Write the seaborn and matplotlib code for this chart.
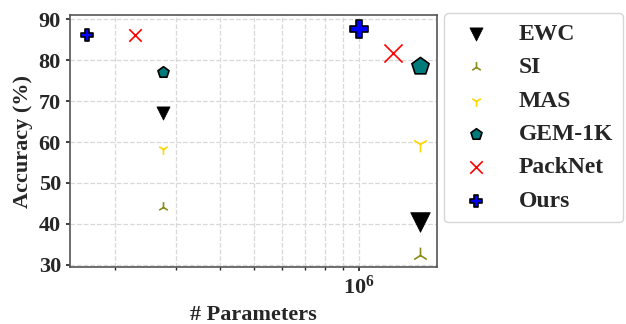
import matplotlib
matplotlib.use("Agg")
import matplotlib.pyplot as plt
import seaborn as sns
import pandas as pd
import numpy as np

methods = ["EWC", "SI", "MAS", "GEM-1K", "PackNet", "Ours"]
params_small = [2.75e5, 2.75e5, 2.75e5, 2.75e5, 2.29e5, 1.67e5]
params_big = [1.49e6, 1.49e6, 1.49e6, 1.49e6, 1.25e6, 1.0e6]
acc_small = [67.1, 44.1, 58.2, 77.1, 86.0, 86.0]
acc_big = [40.6, 32.4, 59.5, 78.5, 81.8, 87.7]

markers = {"EWC": "v", "SI": "2", "MAS": "1", "GEM-1K": "p", "PackNet": "x", "Ours": "P"}
colors = {"EWC": "black", "SI": "#8b8b1a", "MAS": "#ffd700", "GEM-1K": "#007b7b",
          "PackNet": "red", "Ours": "blue"}
sizes_small = {"EWC": 90, "SI": 60, "MAS": 60, "GEM-1K": 70, "PackNet": 80, "Ours": 70}
sizes_big = {"EWC": 200, "SI": 130, "MAS": 130, "GEM-1K": 170, "PackNet": 170, "Ours": 170}

sns.set_theme(style="white")
plt.rcParams["font.family"] = ["Liberation Serif", "DejaVu Serif"]
plt.rcParams["font.weight"] = "bold"
plt.rcParams["mathtext.fontset"] = "stix"
plt.rcParams["mathtext.default"] = "bf"

fig = plt.figure(figsize=(6.26, 3.24), dpi=100)
ax = fig.add_axes([70 / 626, 1 - 267 / 324, 367 / 626, 252 / 324])

for i, m in enumerate(methods):
    df = pd.DataFrame({"p": [params_small[i], params_big[i]],
                       "a": [acc_small[i], acc_big[i]],
                       "s": [sizes_small[m], sizes_big[m]]})
    if m in ("GEM-1K", "Ours"):
        kw = dict(edgecolor="black", linewidth=1.2)
    elif m == "EWC":
        kw = dict(edgecolor="black", linewidth=0.5)
    else:
        kw = dict(linewidth=1.2)
    for j in range(2):
        ax.scatter(df["p"][j], df["a"][j], marker=markers[m], color=colors[m],
                   s=df["s"][j], label=m if j == 0 else None, zorder=3, **kw)

ax.set_xscale("log")
ax.set_xlim(1.49e5, 1.67e6)
ax.set_ylim(29.5, 91)
ax.set_yticks([30, 40, 50, 60, 70, 80, 90])
ax.grid(True, which="both", linestyle="--", color="#d8d8d8", linewidth=0.9)
ax.tick_params(axis="both", labelsize=16, length=3, direction="out", left=True, bottom=True)
ax.tick_params(axis="x", which="minor", length=2, bottom=True)
for lab in ax.get_yticklabels():
    lab.set_fontweight("bold")
ax.set_xlabel("# Parameters", fontsize=16, fontweight="bold")
ax.set_ylabel("Accuracy (%)", fontsize=16, fontweight="bold")
for sp in ax.spines.values():
    sp.set_color("#555555")
    sp.set_linewidth(1.2)

fig.legend(loc="upper left", bbox_to_anchor=(444 / 626, 1 - 13 / 324),
           prop={"family": "Liberation Serif", "weight": "bold", "size": 17},
           frameon=True, fancybox=True, edgecolor="#cccccc", borderpad=0.45,
           handletextpad=0.9, labelspacing=0.5, borderaxespad=0, handlelength=1.8)

fig.savefig("out.png", dpi=100)
